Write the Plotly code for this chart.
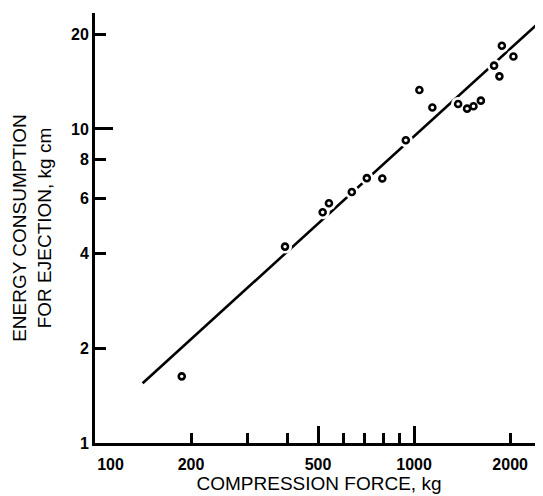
import plotly.graph_objects as go

# Data
force_kg = [187, 394, 517, 541, 638, 711, 795, 942, 1039, 1141,
            1374, 1466, 1535, 1619, 1781, 1851, 1884, 2048]
energy_kgcm = [1.63, 4.22, 5.43, 5.80, 6.30, 6.97, 6.95, 9.2, 13.3, 11.7,
               12.0, 11.6, 11.8, 12.3, 15.9, 14.7, 18.4, 17.0]

# Fitted line end points
fit_x = [141, 2513]
fit_y = [1.55, 22.2]

x_tick_vals = [100, 200, 500, 1000, 2000]
x_tick_text = ["\u00a0" * 7 + "100", "200", "500", "1000", "2000"]
x_minor_vals = [300, 400, 600, 700, 800, 900]
x_long_vals = [500, 1000]

y_tick_vals = [1, 2, 4, 6, 8, 10, 20]
y_tick_text = ["1", "2", "4", "6", "8", "10", "20"]
y_long_vals = [10]

x_title = "COMPRESSION FORCE, kg"
y_title = "ENERGY CONSUMPTION<br>FOR EJECTION, kg cm"

FONT = "Liberation Sans, Arial, Helvetica, sans-serif"
XR = [2, 3.404]
YR = [0, 1.369]

fig = go.Figure()
fig.add_trace(go.Scatter(x=fit_x, y=fit_y, mode="lines",
                         line=dict(color="black", width=2.6),
                         hoverinfo="skip", showlegend=False))
# white halo so the line is interrupted around circles
fig.add_trace(go.Scatter(x=force_kg, y=energy_kgcm, mode="markers",
                         marker=dict(symbol="circle", size=14, color="white",
                                     line=dict(width=0)),
                         hoverinfo="skip", showlegend=False))
fig.add_trace(go.Scatter(x=force_kg, y=energy_kgcm, mode="markers",
                         marker=dict(symbol="circle", size=6, color="white",
                                     line=dict(color="black", width=2.6)),
                         showlegend=False))
# invisible trace to carry the overlay axes used for the long ticks
fig.add_trace(go.Scatter(x=fit_x, y=fit_y, mode="lines", xaxis="x2", yaxis="y2",
                         line=dict(width=0, color="rgba(0,0,0,0)"),
                         hoverinfo="skip", showlegend=False))

tick_font = dict(family=FONT, size=16, color="black", weight="bold")
title_font = dict(family=FONT, size=19, color="black")

# page body has an 8px margin, so the figure is sized to fit the window
fig.update_layout(
    width=535, height=488,
    margin=dict(l=87, r=0, t=5, b=53),
    paper_bgcolor="white", plot_bgcolor="white",
    xaxis=dict(type="log", range=XR, showgrid=False, zeroline=False,
               automargin=False,
               showline=True, linecolor="black", linewidth=3,
               tickmode="array", tickvals=x_tick_vals, ticktext=x_tick_text,
               ticks="inside", ticklen=10, tickwidth=2.5, tickcolor="black",
               tickfont=tick_font, ticklabelstandoff=5,
               minor=dict(tickmode="array", tickvals=x_minor_vals,
                          ticks="inside", ticklen=10, tickwidth=2.5,
                          tickcolor="black", showgrid=False),
               title=dict(text=x_title, font=title_font, standoff=3)),
    yaxis=dict(type="log", range=YR, showgrid=False, zeroline=False,
               automargin=False,
               showline=True, linecolor="black", linewidth=3,
               tickmode="array", tickvals=y_tick_vals, ticktext=y_tick_text,
               ticks="inside", ticklen=11, tickwidth=2.5, tickcolor="black",
               tickfont=tick_font,
               title=dict(text=y_title, font=title_font, standoff=15)),
    xaxis2=dict(type="log", range=XR, overlaying="x", anchor="y2", side="bottom",
                automargin=False,
                showgrid=False, zeroline=False, showline=False,
                tickmode="array", tickvals=x_long_vals, showticklabels=False,
                ticks="inside", ticklen=17, tickwidth=2.5, tickcolor="black"),
    yaxis2=dict(type="log", range=YR, overlaying="y", anchor="x2", side="left",
                automargin=False,
                showgrid=False, zeroline=False, showline=False,
                tickmode="array", tickvals=y_long_vals, showticklabels=False,
                ticks="inside", ticklen=18, tickwidth=2.5, tickcolor="black"),
)

fig.write_html("out.html")
